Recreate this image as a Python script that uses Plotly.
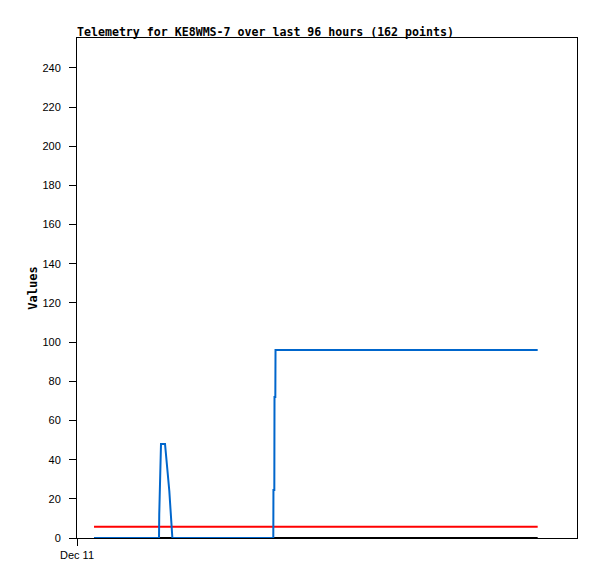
import plotly.graph_objects as go
import pandas as pd

start = pd.Timestamp("2023-12-11 00:00")

# Hours since Dec 11 00:00 and values
blue_hours = [3.68, 17.73, 17.78, 17.95, 18.16, 19.03, 19.52, 19.96, 20.26, 20.60, 20.62, 42.44, 42.47, 42.66, 42.70, 42.88, 42.92, 99.60]
blue_vals = [0, 0, 12, 36, 48, 48, 36, 24, 13, 4, 0, 0, 24.5, 24.5, 72, 72, 96, 96]

red_hours = [3.68, 99.60]
red_vals = [5.8, 5.8]

black_hours = [3.68, 99.60]
black_vals = [0, 0]

y_ticks = [0, 20, 40, 60, 80, 100, 120, 140, 160, 180, 200, 220, 240]
x_tick_dates = ["2023-12-11 00:00"]
x_tick_labels = ["Dec 11"]

def to_dt(hours):
    return [start + pd.Timedelta(hours=h) for h in hours]

fig = go.Figure()
fig.add_trace(go.Scatter(x=to_dt(red_hours), y=red_vals, mode="lines",
                         line=dict(color="#ff0000", width=2), showlegend=False))
fig.add_trace(go.Scatter(x=to_dt(black_hours), y=black_vals, mode="lines",
                         line=dict(color="#000000", width=2), showlegend=False))
fig.add_trace(go.Scatter(x=to_dt(blue_hours), y=blue_vals, mode="lines",
                         line=dict(color="#0066cc", width=2), showlegend=False))

fig.update_layout(
    width=597, height=579,
    margin=dict(l=69, r=28, t=30, b=49, autoexpand=False),
    paper_bgcolor="white", plot_bgcolor="white",
    title=dict(text="<b>Telemetry for KE8WMS-7 over last 96 hours (162 points)</b>",
               x=69/597, xanchor="left", y=1-24/579, yanchor="middle",
               font=dict(family="DejaVu Sans Mono", size=11.6, color="black")),
    font=dict(family="Liberation Sans", size=11, color="black"),
)
fig.update_xaxes(
    type="date", automargin=False,
    range=[start, start + pd.Timedelta(hours=108.1)],
    tickvals=x_tick_dates, ticktext=x_tick_labels,
    ticks="outside", ticklen=7, tickcolor="black",
    showgrid=False, zeroline=False,
    showline=True, linecolor="black", linewidth=1, mirror=True,
    tickfont=dict(family="Liberation Sans", size=11),
)
fig.update_yaxes(
    range=[0, 255.3], automargin=False,
    tickvals=y_ticks,
    ticks="outside", ticklen=7, tickcolor="black",
    ticklabelstandoff=6,
    showgrid=False, zeroline=False,
    showline=True, linecolor="black", linewidth=1, mirror=True,
    title=dict(text="<b>Values</b>", standoff=2,
               font=dict(family="DejaVu Sans Mono", size=12)),
    tickfont=dict(family="Liberation Sans", size=11),
)

fig.write_html("out.html")
